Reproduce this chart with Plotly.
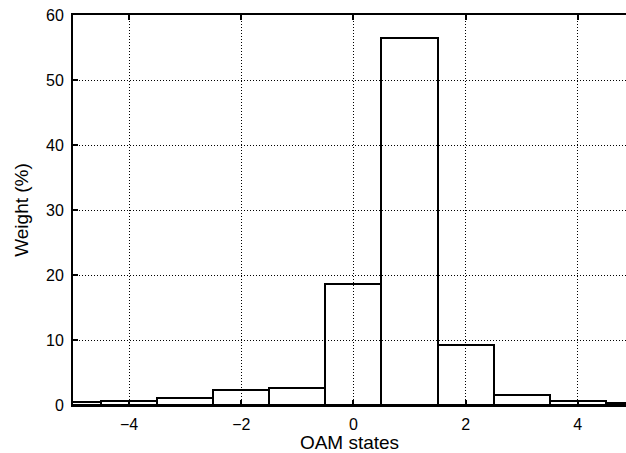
import plotly.graph_objects as go

oam_states = [-5, -4, -3, -2, -1, 0, 1, 2, 3, 4, 5]
weights = [0.4, 0.6, 1.1, 2.35, 2.65, 18.6, 56.5, 9.3, 1.5, 0.65, 0.35]
x_ticks = [-4, -2, 0, 2, 4]
y_ticks = [0, 10, 20, 30, 40, 50, 60]

font = dict(family="Liberation Sans, Arial, Helvetica, sans-serif", size=16, color="black")
grid_dash = "1px,2px"

fig = go.Figure()
fig.add_trace(go.Bar(
    x=oam_states, y=weights, width=1,
    marker=dict(color="rgba(0,0,0,0)", line=dict(color="black", width=2)),
    showlegend=False,
))

fig.update_layout(
    width=626, height=453,
    margin=dict(l=73, r=0, t=15, b=48),
    plot_bgcolor="white", paper_bgcolor="white",
    font=font,
    bargap=0,
    xaxis=dict(
        range=[-5, 4.86], tickvals=x_ticks, ticks="inside", ticklen=5, tickwidth=1.5,
        tickcolor="black", showline=True, linecolor="black", linewidth=2, mirror=False,
        showgrid=True, gridcolor="black", griddash=grid_dash, gridwidth=1,
        zeroline=False, title=dict(text="OAM states", standoff=4), layer="above traces",
        automargin=True, ticklabelstandoff=4,
    ),
    yaxis=dict(
        range=[0, 60], tickvals=y_ticks, ticks="inside", ticklen=5, tickwidth=1.5,
        tickcolor="black", showline=True, linecolor="black", linewidth=2,
        showgrid=True, gridcolor="black", griddash=grid_dash, gridwidth=1,
        zeroline=False, title=dict(text="Weight (%)", standoff=12), layer="above traces",
        automargin=True, ticklabelstandoff=4,
    ),
    xaxis2=dict(
        overlaying="x", side="top", range=[-5, 4.86], tickvals=x_ticks, ticks="inside",
        ticklen=5, tickwidth=1.5, tickcolor="black", showticklabels=False,
        showline=True, linecolor="black", linewidth=2, showgrid=False, zeroline=False,
        automargin=False,
    ),
)
fig.add_trace(go.Scatter(x=[None], y=[None], xaxis="x2", showlegend=False))
fig.write_html(
    "out.html",
    config={"displayModeBar": False},
    post_script="document.body.style.margin='0';document.body.style.overflow='hidden';",
)
